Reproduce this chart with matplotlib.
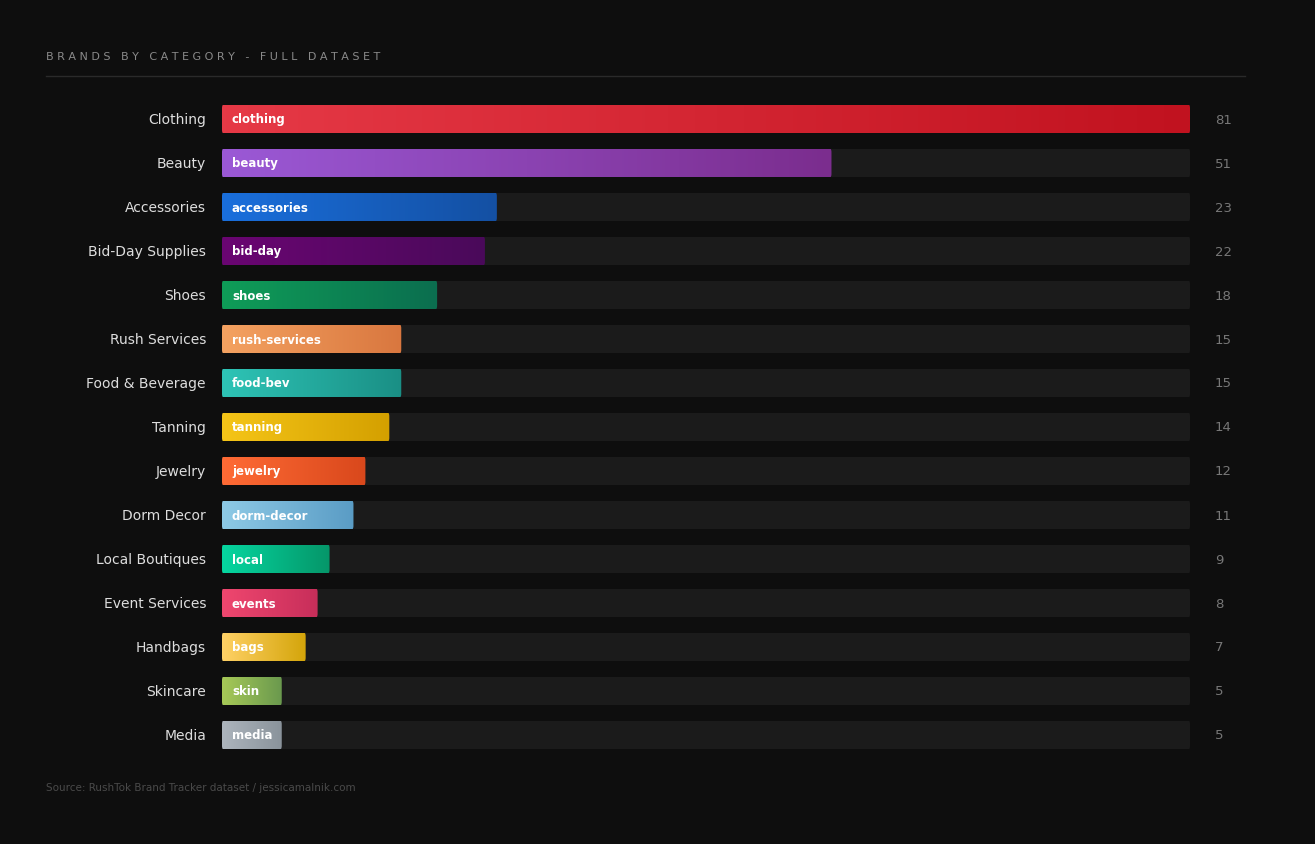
import matplotlib
matplotlib.use("Agg")
import matplotlib.pyplot as plt
import numpy as np
from matplotlib.patches import FancyBboxPatch
from matplotlib.colors import LinearSegmentedColormap
from matplotlib.transforms import blended_transform_factory

categories = ["Clothing","Beauty","Accessories","Bid-Day Supplies","Shoes","Rush Services",
              "Food & Beverage","Tanning","Jewelry","Dorm Decor","Local Boutiques",
              "Event Services","Handbags","Skincare","Media"]
slugs = ["clothing","beauty","accessories","bid-day","shoes","rush-services","food-bev",
         "tanning","jewelry","dorm-decor","local","events","bags","skin","media"]
values = [81,51,23,22,18,15,15,14,12,11,9,8,7,5,5]
colors = [("#e63946","#c1121f"),("#9b59d6","#7b2d8e"),("#1a6fdc","#1450a3"),
          ("#6a0572","#4a0a5a"),("#0f9d58","#0b6e4f"),("#f4a261","#d9773f"),
          ("#2ec4b6","#1a8f85"),("#f5c518","#d4a000"),("#ff6b35","#d9481c"),
          ("#8ecae6","#5a9cc5"),("#06d6a0","#059669"),("#ef476f","#c72e5a"),
          ("#ffd166","#d4a50a"),("#a7c957","#6a994e"),("#adb5bd","#8a939b")]

W, H = 1315, 845
fig = plt.figure(figsize=(W/100, H/100), dpi=100, facecolor="#0e0e0e")
ax = fig.add_axes([222/W, 1-758/H, (1190-222)/W, (758-98)/H])
ax.set_facecolor("#0e0e0e")
vmax = max(values)
ax.set_xlim(0, vmax)
n = len(categories)
ax.set_ylim(n-0.5, -0.5)
ax.axis("off")
bh = 28/44
rad_x = 3*vmax/968
grad = np.linspace(0, 1, 256).reshape(1, -1)
bt = blended_transform_factory(fig.transFigure, ax.transData)

for i, (c, s, v, (c1, c2)) in enumerate(zip(categories, slugs, values, colors)):
    track = FancyBboxPatch((0, i-bh/2), vmax, bh, boxstyle="round,pad=0,rounding_size=0.08",
                           mutation_aspect=1, fc="#1b1b1b", ec="none")
    ax.add_patch(track)
    box = FancyBboxPatch((0, i-bh/2), v, bh, boxstyle="round,pad=0,rounding_size=0.08",
                         fc="none", ec="none")
    ax.add_patch(box)
    cmap = LinearSegmentedColormap.from_list("g", [c1, c2])
    im = ax.imshow(grad, extent=(0, v, i+bh/2, i-bh/2), cmap=cmap, aspect="auto", zorder=2)
    im.set_clip_path(box)
    ax.text(10*vmax/968, i, s, color="white", fontsize=8.5, fontweight="bold",
            va="center", ha="left", zorder=3)
    ax.text(206/W, i, c, transform=bt, color="#dddddd", fontsize=10, va="center", ha="right")
    ax.text(1215/W, i, str(v), transform=bt, color="#777777", fontsize=9.5, va="center", ha="left")

fig.text(46/W, 1-57/H, "B R A N D S   B Y   C A T E G O R Y   -   F U L L   D A T A S E T",
         color="#8a8a8a", fontsize=8, va="center", ha="left")
fig.add_artist(plt.Line2D([46/W, 1245/W], [1-77/H, 1-77/H], color="#2a2a2a", lw=1))
fig.text(46/W, 1-788/H, "Source: RushTok Brand Tracker dataset / jessicamalnik.com",
         color="#4a4a4a", fontsize=7.5, va="center", ha="left")
fig.savefig("out.png", dpi=100, facecolor="#0e0e0e")
